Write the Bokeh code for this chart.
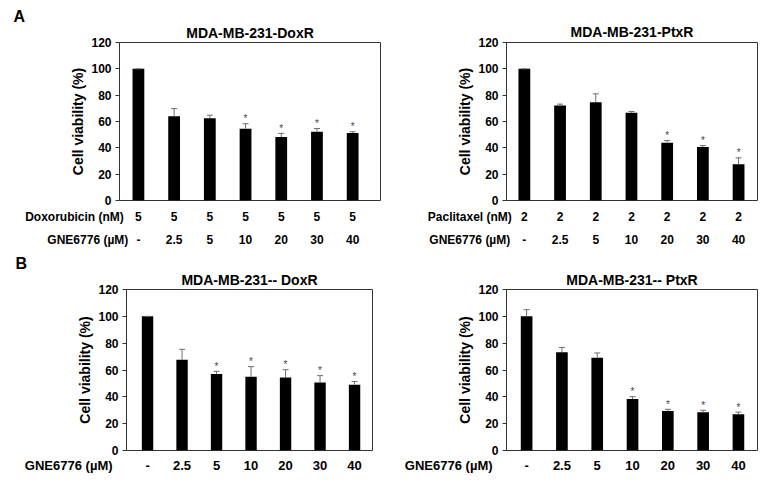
from bokeh.plotting import figure
from bokeh.models import LinearAxis, FixedTicker, Range1d, ColumnDataSource, Title
from bokeh.layouts import column, row
from bokeh.embed import file_html
from bokeh.resources import INLINE
from bokeh.core.properties import value

FONT = "Liberation Sans"
NB = "\u00a0"

# ---------------- data ----------------
positions = [1, 2, 3, 4, 5, 6, 7]
gne_labels = ["-", "2.5", "5", "10", "20", "30", "40"]
dox_labels = ["5", "5", "5", "5", "5", "5", "5"]
ptx_labels = ["2", "2", "2", "2", "2", "2", "2"]

a_dox_vals = [100, 64.0, 62.5, 54.5, 48.2, 52.2, 51.2]
a_dox_err = [0, 5.8, 2.3, 3.8, 2.8, 2.5, 1.0]
a_dox_sig = [0, 0, 0, 1, 1, 1, 1]

a_ptx_vals = [100, 72.2, 74.6, 66.6, 43.9, 40.7, 27.6]
a_ptx_err = [0, 1.0, 6.4, 1.0, 1.7, 1.0, 4.8]
a_ptx_sig = [0, 0, 0, 0, 1, 1, 1]

b_dox_vals = [100, 67.6, 57.1, 54.9, 54.4, 50.7, 49.0]
b_dox_err = [0, 7.8, 1.9, 7.6, 5.8, 5.1, 2.4]
b_dox_sig = [0, 0, 1, 1, 1, 1, 1]

b_ptx_vals = [100, 73.2, 69.1, 38.4, 29.5, 28.6, 27.1]
b_ptx_err = [5.0, 3.6, 3.6, 1.7, 1.2, 1.4, 1.5]
b_ptx_sig = [0, 0, 0, 1, 1, 1, 1]


def panel(vals, errs, sig, title, width, height, borders, xr, rows,
          standoffs, pads, fsize, title_dx, title_standoff, letter=None):
    bl, br, bt, bb = borders
    p = figure(width=width, height=height, output_backend="svg",
               toolbar_location=None, x_range=Range1d(*xr),
               y_range=Range1d(0, 120),
               min_border_left=bl, min_border_right=br,
               min_border_top=bt, min_border_bottom=bb)
    # outer title: the panel letter (or nothing)
    if letter is not None:
        ltxt, ldx = letter
        p.title.text = ltxt
        p.title.align = "left"
        p.title.offset = ldx
        p.title.standoff = 0
        p.title.text_font = FONT
        p.title.text_font_style = "bold"
        p.title.text_font_size = "16px"
        p.title.text_color = "black"
    else:
        p.title = None
    # inner title: the panel heading, right above the frame
    p.add_layout(Title(text=title, align="center", offset=title_dx,
                       standoff=title_standoff, vertical_align="top",
                       text_font=FONT, text_font_style="bold",
                       text_font_size="14px", text_color="black"), "above")

    p.outline_line_color = "#333333"
    p.outline_line_width = 1
    p.xgrid.visible = False
    p.ygrid.visible = False
    p.background_fill_color = "white"
    p.border_fill_color = "white"

    tops = [v + e for v, e in zip(vals, errs)]
    src = ColumnDataSource(dict(x=positions, v=vals, top=tops))
    p.vbar(x="x", top="v", bottom=0, width=0.33, source=src,
           fill_color="black", line_color=None)
    p.segment(x0="x", y0="v", x1="x", y1="top", source=src,
              line_color="#6e6e6e", line_width=1)
    p.scatter(x="x", y="top", marker="dash", size=6, source=src,
              line_color="#6e6e6e", line_width=1)
    sx = [x for x, s in zip(positions, sig) if s]
    sy = [t for t, s in zip(tops, sig) if s]
    p.text(x=sx, y=sy, text=["*"] * len(sx), text_align="center",
           text_baseline="middle", y_offset=-5,
           text_font=value(FONT), text_font_size="10px",
           text_color="#444444")

    # y axis
    ya = p.yaxis[0]
    ya.ticker = FixedTicker(ticks=[0, 20, 40, 60, 80, 100, 120])
    ya.axis_label = "Cell viability (%)"
    ya.axis_label_text_font = FONT
    ya.axis_label_text_font_style = "bold"
    ya.axis_label_text_font_size = "14px"
    ya.axis_label_text_color = "black"
    ya.axis_label_standoff = 2
    ya.major_label_text_font = FONT
    ya.major_label_text_font_style = "bold"
    ya.major_label_text_font_size = "12px"
    ya.major_label_text_color = "black"
    ya.major_label_standoff = 4
    ya.major_tick_out = 4
    ya.major_tick_in = 0
    ya.minor_tick_out = 0
    ya.minor_tick_in = 0
    ya.axis_line_color = "#333333"
    ya.major_tick_line_color = "#333333"

    # x axes: one per row of labels; the row caption sits on a tick at the frame's left edge
    for i, (name, labels) in enumerate(rows):
        if i == 0:
            ax = p.xaxis[0]
        else:
            ax = LinearAxis()
            p.add_layout(ax, "below")
        ax.ticker = FixedTicker(ticks=[xr[0]] + positions)
        overrides = {pos: lbl for pos, lbl in zip(positions, labels)}
        overrides[xr[0]] = name + NB * pads[i]
        ax.major_label_overrides = overrides
        ax.major_label_text_font = FONT
        ax.major_label_text_font_style = "bold"
        ax.major_label_text_font_size = fsize
        ax.major_label_text_color = "black"
        ax.major_label_standoff = standoffs[i]
        ax.major_tick_out = 0
        ax.major_tick_in = 0
        ax.minor_tick_out = 0
        ax.minor_tick_in = 0
        ax.axis_line_color = None
    return p


p1 = panel(a_dox_vals, a_dox_err, a_dox_sig, "MDA-MB-231-DoxR", 390, 249,
           (119, 10, 42, 47), (0.47, 7.78),
           [("Doxorubicin (nM)", dox_labels), ("GNE6776 (\u00b5M)", gne_labels)],
           [9, 6], [27, 19], "12px", 0, 0, letter=("A", -106))
p2 = panel(a_ptx_vals, a_ptx_err, a_ptx_sig, "MDA-MB-231-PtxR", 368, 249,
           (116, 1, 38, 47), (0.5, 7.53),
           [("Paclitaxel (nM)", ptx_labels), ("GNE6776 (\u00b5M)", gne_labels)],
           [9, 6], [22, 22], "12px", -16, 2)
p3 = panel(b_dox_vals, b_dox_err, b_dox_sig, "MDA-MB-231-- DoxR", 390, 226,
           (126, 18, 40, 24), (0.39, 7.52),
           [("GNE6776 (\u00b5M)", gne_labels)],
           [7], [32], "13px", 8, 0, letter=("B", -111))
p4 = panel(b_ptx_vals, b_ptx_err, b_ptx_sig, "MDA-MB-231-- PtxR", 368, 226,
           (116, 1, 34, 24), (0.43, 7.54),
           [("GNE6776 (\u00b5M)", gne_labels)],
           [7], [32], "13px", -4, 0)

layout = column(row(p1, p2), row(p3, p4))
open("out.html", "w").write(file_html(layout, INLINE))
